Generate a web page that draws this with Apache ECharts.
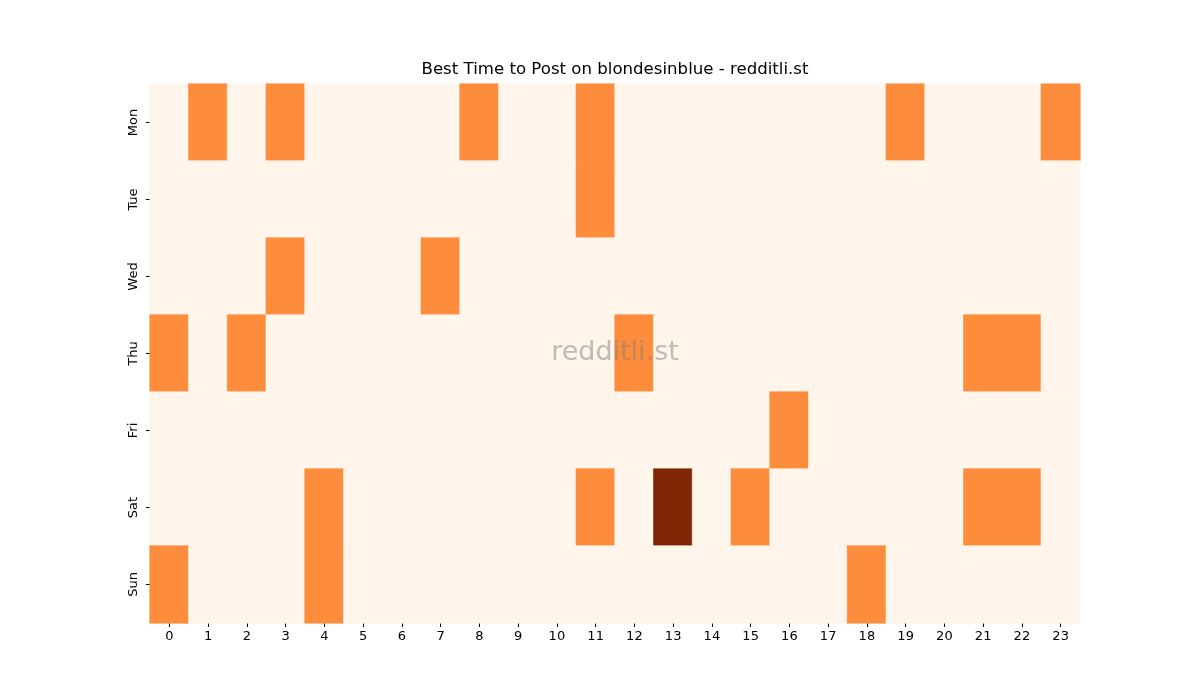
<!DOCTYPE html>
<html>
<head>
<meta charset="utf-8">
<script src="https://cdn.jsdelivr.net/npm/echarts@6/dist/echarts.min.js"></script>
<style>html,body{margin:0;padding:0;background:#fff}#c{width:1200px;height:700px}</style>
</head>
<body>
<div id="c"></div>
<script>
const hours = ['0','1','2','3','4','5','6','7','8','9','10','11','12','13','14','15','16','17','18','19','20','21','22','23'];
const days = ['Mon','Tue','Wed','Thu','Fri','Sat','Sun'];
const mon = [0,1,0,1,0,0,0,0,1,0,0,1,0,0,0,0,0,0,0,1,0,0,0,1];
const tue = [0,0,0,0,0,0,0,0,0,0,0,1,0,0,0,0,0,0,0,0,0,0,0,0];
const wed = [0,0,0,1,0,0,0,1,0,0,0,0,0,0,0,0,0,0,0,0,0,0,0,0];
const thu = [1,0,1,0,0,0,0,0,0,0,0,0,1,0,0,0,0,0,0,0,0,1,1,0];
const fri = [0,0,0,0,0,0,0,0,0,0,0,0,0,0,0,0,1,0,0,0,0,0,0,0];
const sat = [0,0,0,0,1,0,0,0,0,0,0,1,0,2,0,1,0,0,0,0,0,1,1,0];
const sun = [1,0,0,0,1,0,0,0,0,0,0,0,0,0,0,0,0,0,1,0,0,0,0,0];
const rows = [mon,tue,wed,thu,fri,sat,sun];
const palette = ['#fff5eb', '#fd8d3c', '#7f2704'];

const data = [];
rows.forEach((r, yi) => r.forEach((v, xi) => data.push({
  value: [xi, yi, v],
  itemStyle: {color: palette[v], borderColor: palette[v], borderWidth: 0.6}
})));

const chart = echarts.init(document.getElementById('c'));
const font = 'DejaVu Sans';
chart.setOption({
  animation: false,
  grid: {left: 150, right: 120, top: 84, bottom: 77},
  xAxis: {
    type: 'category', data: hours,
    axisLine: {show: false},
    axisTick: {show: true, alignWithLabel: true, length: 4, lineStyle: {color: '#000'}},
    axisLabel: {color: '#000', fontFamily: font, fontSize: 13, margin: 7},
    splitLine: {show: false}
  },
  yAxis: {
    type: 'category', data: days, inverse: true,
    axisLine: {show: false},
    axisTick: {show: true, alignWithLabel: true, length: 4, lineStyle: {color: '#000'}},
    axisLabel: {color: '#000', fontFamily: font, fontSize: 13, rotate: 90, margin: 10},
    splitLine: {show: false}
  },
  series: [{
    type: 'heatmap', data: data,
    emphasis: {disabled: true}
  }],
  graphic: [
    {type: 'text', x: 615, y: 70, z: 100,
     style: {text: 'Best Time to Post on blondesinblue - redditli.st', font: '16.6px "DejaVu Sans"', fill: '#000', textAlign: 'center', textVerticalAlign: 'middle'}},
    {type: 'text', x: 615, y: 353, z: 100,
     style: {text: 'redditli.st', font: '27px "DejaVu Sans"', fill: 'rgba(128,128,128,0.5)', textAlign: 'center', textVerticalAlign: 'middle'}}
  ]
});
</script>
</body>
</html>
